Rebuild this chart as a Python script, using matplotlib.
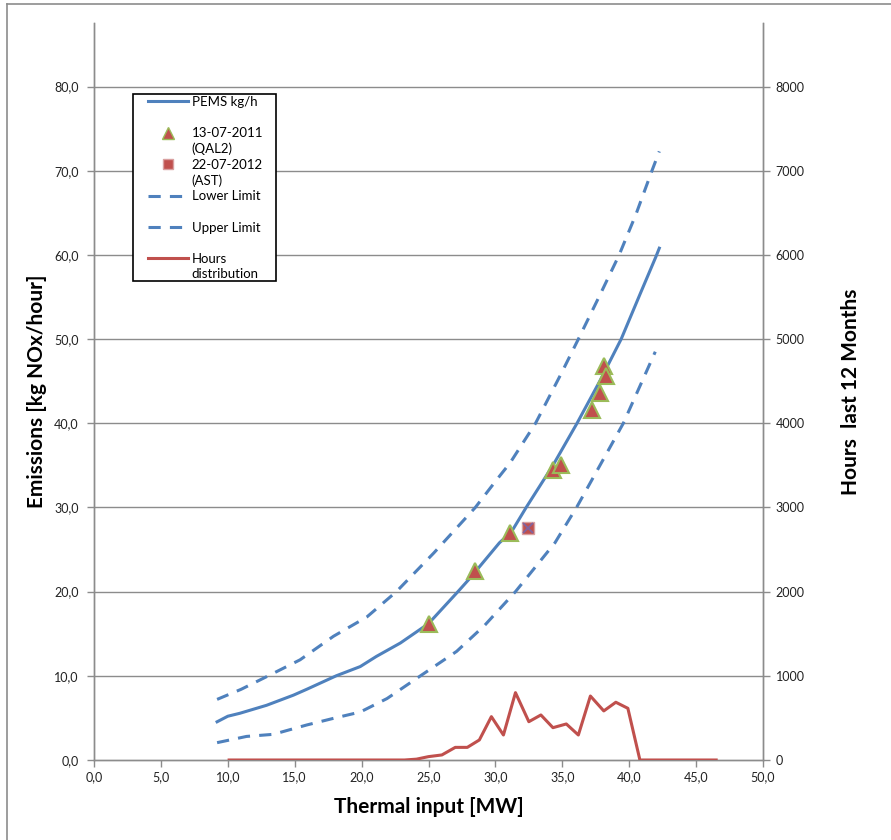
import numpy as np
import matplotlib
matplotlib.use("Agg")
import matplotlib.pyplot as plt
from matplotlib.lines import Line2D
from matplotlib.patches import Rectangle

plt.rcParams['font.family'] = ['Lato', 'DejaVu Sans']

# PEMS curve and limits (kg NOx/hour vs thermal input MW)
pems_x = [9.2, 10.0, 10.9, 12.9, 14.9, 15.9, 18.1, 19.9, 21.1, 22.9, 25.0, 27.2,
          28.1, 30.3, 31.2, 32.3, 34.3, 36.1, 37.8, 39.4, 40.8, 42.0, 42.25]
pems_y = [4.54, 5.2, 5.55, 6.5, 7.7, 8.4, 10.0, 11.1, 12.3, 13.9, 16.2, 20.0,
          21.6, 25.8, 27.1, 30.0, 35.0, 40.0, 45.0, 50.0, 55.3, 59.8, 60.8]

upper_x = [9.2, 11.0, 12.9, 15.4, 17.9, 20.4, 22.6, 25.4, 28.5, 30.1, 31.1,
           33.0, 34.95, 36.2, 37.8, 39.25, 40.5, 41.7, 42.25]
upper_y = [7.2, 8.4, 9.9, 11.9, 14.7, 17.0, 20.0, 24.6, 30.0, 33.3, 35.3,
           40.0, 46.0, 50.0, 55.2, 60.0, 64.8, 70.0, 72.3]

lower_x = [9.2, 11.4, 13.4, 15.9, 17.9, 19.9, 21.9, 24.4, 27.1, 29.2, 31.5,
           34.45, 36.1, 38.06, 39.56, 41.95]
lower_y = [2.06, 2.8, 3.05, 4.16, 4.95, 5.7, 7.3, 10.0, 12.9, 16.0, 20.0,
           25.8, 30.1, 35.7, 40.0, 48.5]

# measurements
qal2_x = [25.0, 28.5, 31.1, 34.3, 34.9, 37.2, 37.8, 38.1, 38.3]
qal2_y = [16.2, 22.5, 27.0, 34.5, 35.0, 41.6, 43.6, 46.8, 45.6]
ast_x = [32.4]
ast_y = [27.6]

# hours distribution (right axis)
hours_x = [10.1, 15.0, 20.0, 23.2, 24.1, 25.0, 26.0, 27.0, 27.9, 28.8, 29.7,
           30.6, 31.5, 32.5, 33.4, 34.3, 35.3, 36.2, 37.1, 38.1, 39.0, 39.9,
           40.8, 43.0, 46.5]
hours_y = [0, 0, 0, 0, 10, 40, 60, 150, 150, 238, 515,
           297, 800, 455, 535, 384, 428, 297, 760, 583, 686, 614,
           0, 0, 0]

x_ticks = [0, 5, 10, 15, 20, 25, 30, 35, 40, 45, 50]
y_ticks = [0, 10, 20, 30, 40, 50, 60, 70, 80]
y2_ticks = [0, 1000, 2000, 3000, 4000, 5000, 6000, 7000, 8000]

blue = '#4F81BD'
red = '#C0504D'
green = '#9BBB59'
purple = '#8064A2'
grid = '#8C8C8C'
txt = '#222222'
dash = (4, 3)

fig = plt.figure(figsize=(8.91, 8.40), dpi=100)
ax = fig.add_axes([94 / 891, 80 / 840, 669 / 891, 737 / 840])
ax2 = ax.twinx()

ax.set_xlim(0, 50)
ax.set_ylim(0, 87.55)
ax2.set_ylim(0, 8755)

for v in y_ticks[1:]:
    ax.axhline(v, color=grid, lw=1.0, zorder=0)

ax.plot(pems_x, pems_y, color=blue, lw=2.2, zorder=3)
ax.plot(qal2_x, qal2_y, linestyle='none', marker='^', ms=11, mfc=red,
        mec=green, mew=1.5, zorder=5)
ax.plot(ast_x, ast_y, linestyle='none', marker='s', ms=9, mfc=red,
        mec='#D9A0A0', mew=1, zorder=5)
ax.plot(ast_x, ast_y, linestyle='none', marker='x', ms=7, mec=purple,
        mew=1.3, zorder=6)
ax.plot(lower_x, lower_y, color=blue, lw=2.2, dashes=dash, zorder=3)
ax.plot(upper_x, upper_y, color=blue, lw=2.2, dashes=dash, zorder=3)
ax2.plot(hours_x, hours_y, color=red, lw=2.2, zorder=3)

ax.set_xticks(x_ticks)
ax.set_xticklabels([('%.1f' % v).replace('.', ',') for v in x_ticks])
ax.set_yticks(y_ticks)
ax.set_yticklabels([('%.1f' % v).replace('.', ',') for v in y_ticks])
ax2.set_yticks(y2_ticks)
ax2.set_yticklabels([str(v) for v in y2_ticks])

for a in (ax, ax2):
    a.spines['top'].set_visible(False)
    for s in ('left', 'right', 'bottom'):
        a.spines[s].set_color(grid)
        a.spines[s].set_linewidth(1.0)
    a.tick_params(colors=grid, labelcolor=txt, labelsize=9, length=5,
                  width=1.0, direction='out')
ax.tick_params(axis='x', pad=3)
ax.tick_params(axis='y', pad=6)
ax2.tick_params(axis='y', pad=4)

ax.set_xlabel('Thermal input [MW]', fontsize=15, fontweight='bold',
              color='black', labelpad=10)
ax.set_ylabel('Emissions [kg NOx/hour]', fontsize=15, fontweight='bold',
              color='black', labelpad=5)
ax2.set_ylabel('Hours  last 12 Months', fontsize=15, fontweight='bold',
               color='black', labelpad=26)

# legend: one row per text line, handle on first line of each entry
blank = Line2D([], [], color='none')
handles = [
    Line2D([], [], color=blue, lw=2.2), blank,
    Line2D([], [], linestyle='none', marker='^', ms=8, mfc=red, mec=green), blank,
    Line2D([], [], linestyle='none', marker='s', ms=7, mfc=red, mec='#D9A0A0'), blank,
    Line2D([], [], color=blue, lw=2.2, dashes=dash), blank,
    Line2D([], [], color=blue, lw=2.2, dashes=dash), blank,
    Line2D([], [], color=red, lw=2.2), blank,
]
labels = ['PEMS kg/h', ' ', '13-07-2011', '(QAL2)', '22-07-2012', '(AST)',
          'Lower Limit', ' ', 'Upper Limit', ' ', 'Hours', 'distribution']
ax2.add_patch(Rectangle((133 / 891, 1 - 281 / 840), 143 / 891, 187 / 840,
                        transform=fig.transFigure, fill=True, fc='white',
                        ec='black', lw=1.2, zorder=9, clip_on=False))
leg = ax2.legend(handles, labels, loc='upper left',
                 bbox_to_anchor=(148 / 891, 1 - 96 / 840),
                 bbox_transform=fig.transFigure, fontsize=9.5,
                 frameon=False, handlelength=3.0, handletextpad=0.3,
                 labelspacing=0.27, borderpad=0, borderaxespad=0)
leg.set_zorder(10)

# outer chart border
fig.add_artist(Line2D([7 / 891, 7 / 891], [0, 836 / 840], color=grid,
                      lw=1.2, transform=fig.transFigure))
fig.add_artist(Line2D([7 / 891, 1], [836 / 840, 836 / 840], color=grid,
                      lw=1.2, transform=fig.transFigure))

fig.savefig('out.png', dpi=100)
